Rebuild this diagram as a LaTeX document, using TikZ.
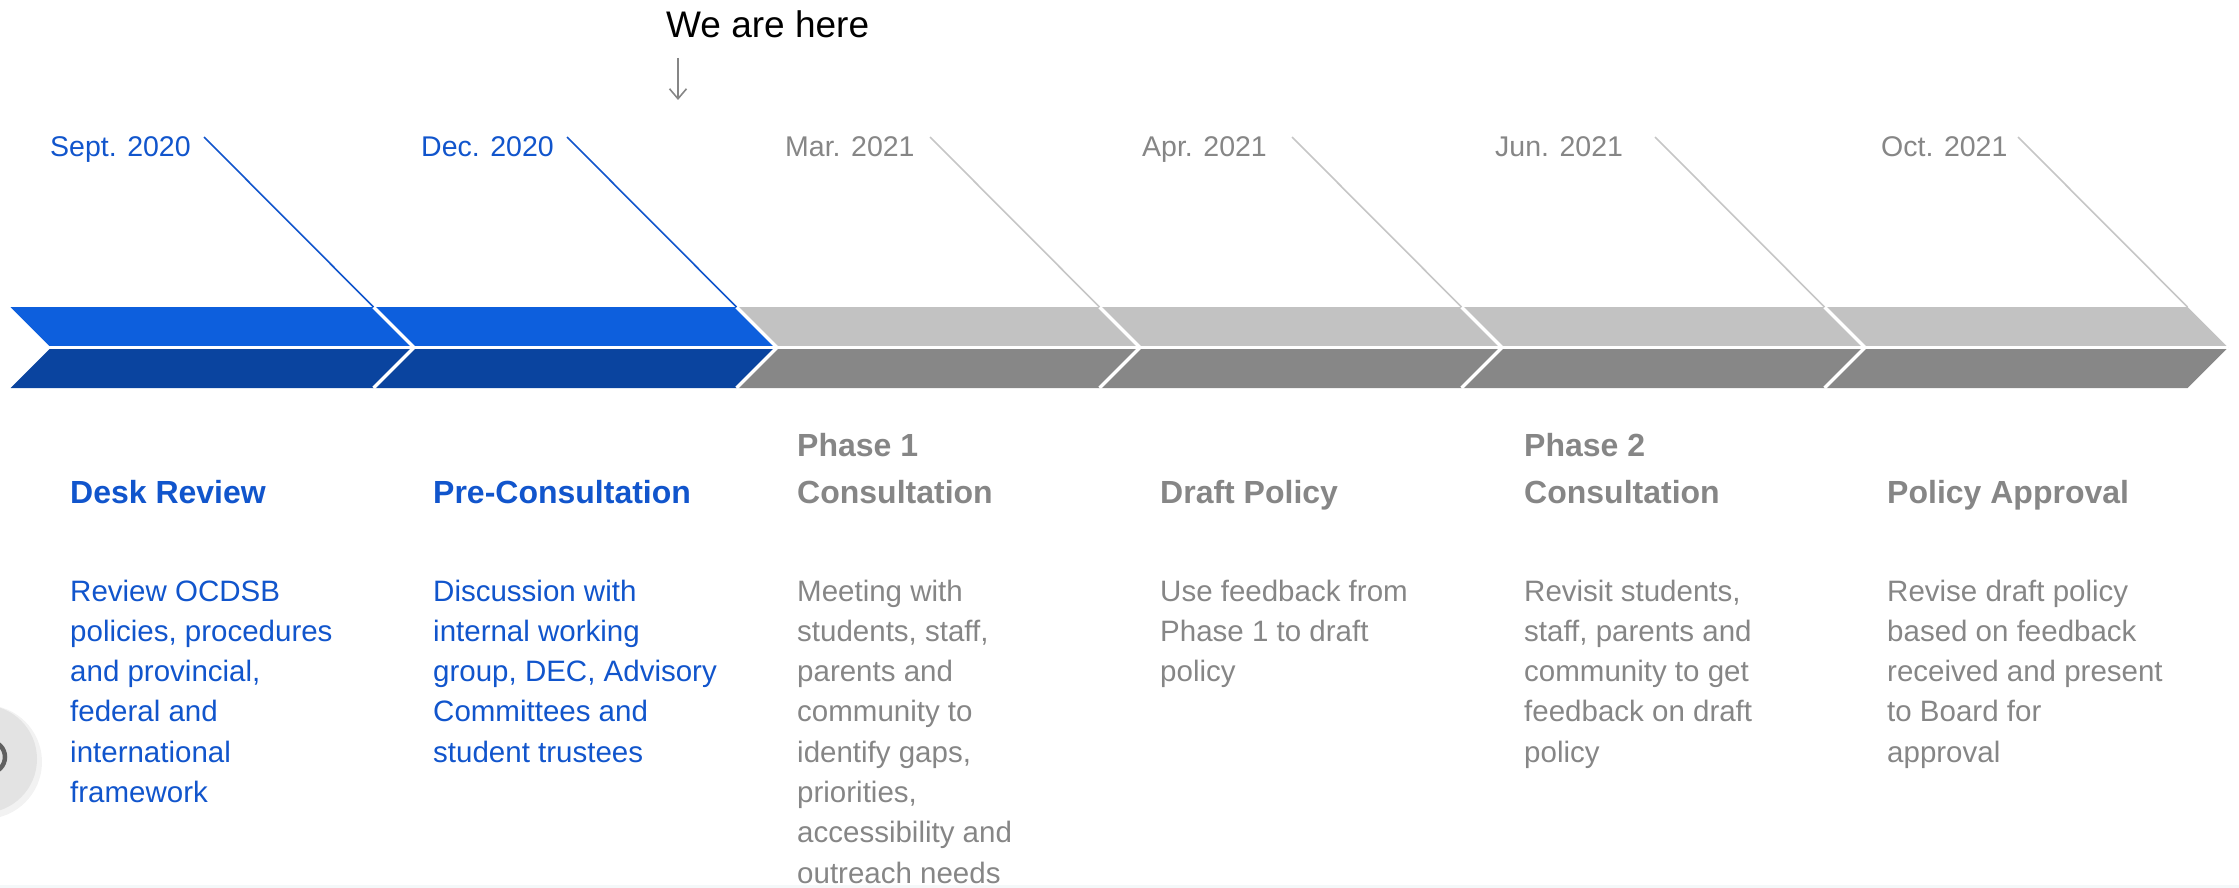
\documentclass[tikz,border=0pt]{standalone}
\usepackage{fontspec}
\setmainfont{Liberation Sans}
\usetikzlibrary{arrows.meta}

\definecolor{tlblue}{HTML}{1155CC}
\definecolor{tlgrey}{HTML}{868686}
\definecolor{bandblue}{HTML}{0D5FDD}
\definecolor{bandnavy}{HTML}{0A449F}
\definecolor{bandlight}{HTML}{C2C2C2}
\definecolor{banddark}{HTML}{878787}
\definecolor{leadgrey}{HTML}{C6C6C6}
\definecolor{strip}{HTML}{F4F8F9}

\tikzset{
  datelbl/.style = {anchor=base west, inner sep=0pt, font=\fontsize{28.5}{35}\selectfont},
  phasetitle/.style = {anchor=base west, inner sep=0pt, align=left, font=\fontsize{32}{47}\selectfont\bfseries},
  phasebody/.style = {anchor=north west, inner sep=0pt, align=left, font=\fontsize{29.5}{40.3}\selectfont},
  leader/.style = {line width=1.6pt},
  sepline/.style = {white, line width=3.5pt, line join=miter},
  herearrow/.tip = {Straight Barb[length=10pt,width=17pt]}
}

\begin{document}
\begin{tikzpicture}[x=1pt, y=-1pt]
\useasboundingbox (0,0) rectangle (2239,888);
\clip (0,0) rectangle (2239,888);

% chevron band, upper and lower halves
\fill[bandblue]  (10.5,307) -- (373.5,307) -- (414,347.5) -- (51,347.5) -- cycle;
\fill[bandnavy]  (51,347.5) -- (414,347.5) -- (373.5,388) -- (10.5,388) -- cycle;
\fill[bandblue]  (373.5,307) -- (736.5,307) -- (777,347.5) -- (414,347.5) -- cycle;
\fill[bandnavy]  (414,347.5) -- (777,347.5) -- (736.5,388) -- (373.5,388) -- cycle;
\fill[bandlight] (736.5,307) -- (1099.5,307) -- (1140,347.5) -- (777,347.5) -- cycle;
\fill[banddark]  (777,347.5) -- (1140,347.5) -- (1099.5,388) -- (736.5,388) -- cycle;
\fill[bandlight] (1099.5,307) -- (1461.5,307) -- (1502,347.5) -- (1140,347.5) -- cycle;
\fill[banddark]  (1140,347.5) -- (1502,347.5) -- (1461.5,388) -- (1099.5,388) -- cycle;
\fill[bandlight] (1461.5,307) -- (1824.5,307) -- (1865,347.5) -- (1502,347.5) -- cycle;
\fill[banddark]  (1502,347.5) -- (1865,347.5) -- (1824.5,388) -- (1461.5,388) -- cycle;
\fill[bandlight] (1824.5,307) -- (2187.5,307) -- (2228,347.5) -- (1865,347.5) -- cycle;
\fill[banddark]  (1865,347.5) -- (2228,347.5) -- (2187.5,388) -- (1824.5,388) -- cycle;

% white cuts
\draw[sepline] (10.5,347.5) -- (2228,347.5);
\draw[sepline] (373.5,307) -- (414,347.5) -- (373.5,388);
\draw[sepline] (736.5,307) -- (777,347.5) -- (736.5,388);
\draw[sepline] (1099.5,307) -- (1140,347.5) -- (1099.5,388);
\draw[sepline] (1461.5,307) -- (1502,347.5) -- (1461.5,388);
\draw[sepline] (1824.5,307) -- (1865,347.5) -- (1824.5,388);

% leaders from the dates
\coordinate (s1) at (204,137);  \coordinate (k1) at (373.5,307);
\coordinate (s2) at (567,137);  \coordinate (k2) at (736.5,307);
\coordinate (s3) at (930,137);  \coordinate (k3) at (1099.5,307);
\coordinate (s4) at (1292,137); \coordinate (k4) at (1461.5,307);
\coordinate (s5) at (1655,137); \coordinate (k5) at (1824.5,307);
\coordinate (s6) at (2018,137); \coordinate (k6) at (2187.5,307);
\draw[leader, tlblue]   (s1) -- (k1);
\draw[leader, tlblue]   (s2) -- (k2);
\draw[leader, leadgrey] (s3) -- (k3);
\draw[leader, leadgrey] (s4) -- (k4);
\draw[leader, leadgrey] (s5) -- (k5);
\draw[leader, leadgrey] (s6) -- (k6);

% dates
\node[datelbl, tlblue] (sept) at (50,157)   {Sept. 2020};
\node[datelbl, tlblue] (dec)  at (421,157)  {Dec. 2020};
\node[datelbl, tlgrey] (mar)  at (785,157)  {Mar. 2021};
\node[datelbl, tlgrey] (apr)  at (1142,157) {Apr. 2021};
\node[datelbl, tlgrey] (jun)  at (1495,157) {Jun. 2021};
\node[datelbl, tlgrey] (oct)  at (1881,157) {Oct. 2021};

% marker
\node[anchor=base west, inner sep=0pt, font=\fontsize{37}{40}\selectfont] (here) at (666,38) {We are here};
\coordinate (h1) at (678,58);
\coordinate (h2) at (678,100);
\draw[-herearrow, tlgrey, line width=1.6pt] (h1) -- (h2);

% phase titles
\node[phasetitle, tlblue] (desk)   at (70,503)   {Desk Review};
\node[phasetitle, tlblue] (pre)    at (433,503)  {Pre-Consultation};
\node[phasetitle, tlgrey] (phone)  at (797,503)  {Phase 1\\Consultation};
\node[phasetitle, tlgrey] (draft)  at (1160,503) {Draft Policy};
\node[phasetitle, tlgrey] (phtwo)  at (1524,503) {Phase 2\\Consultation};
\node[phasetitle, tlgrey] (appr)   at (1887,503) {Policy Approval};

% phase descriptions
\node[phasebody, tlblue] (deskb)  at (70,579.5)   {Review OCDSB\\policies, procedures\\and provincial,\\federal and\\international\\framework};
\node[phasebody, tlblue] (preb)   at (433,579.5)  {Discussion with\\internal working\\group, DEC, Advisory\\Committees and\\student trustees};
\node[phasebody, tlgrey] (phoneb) at (797,579.5)  {Meeting with\\students, staff,\\parents and\\community to\\identify gaps,\\priorities,\\accessibility and\\outreach needs};
\node[phasebody, tlgrey] (draftb) at (1160,579.5) {Use feedback from\\Phase 1 to draft\\policy};
\node[phasebody, tlgrey] (phtwob) at (1524,579.5) {Revisit students,\\staff, parents and\\community to get\\feedback on draft\\policy};
\node[phasebody, tlgrey] (apprb)  at (1887,579.5) {Revise draft policy\\based on feedback\\received and present\\to Board for\\approval};

% button at the left edge and bottom strip
\fill[gray!10] (-15,762) circle (57);
\fill[gray!22] (-17,759) circle (54);
\draw[gray!75!black, line width=4.5pt] (-11,757) circle (16);
\fill[strip] (0,885) rectangle (2239,888);
\end{tikzpicture}
\end{document}
